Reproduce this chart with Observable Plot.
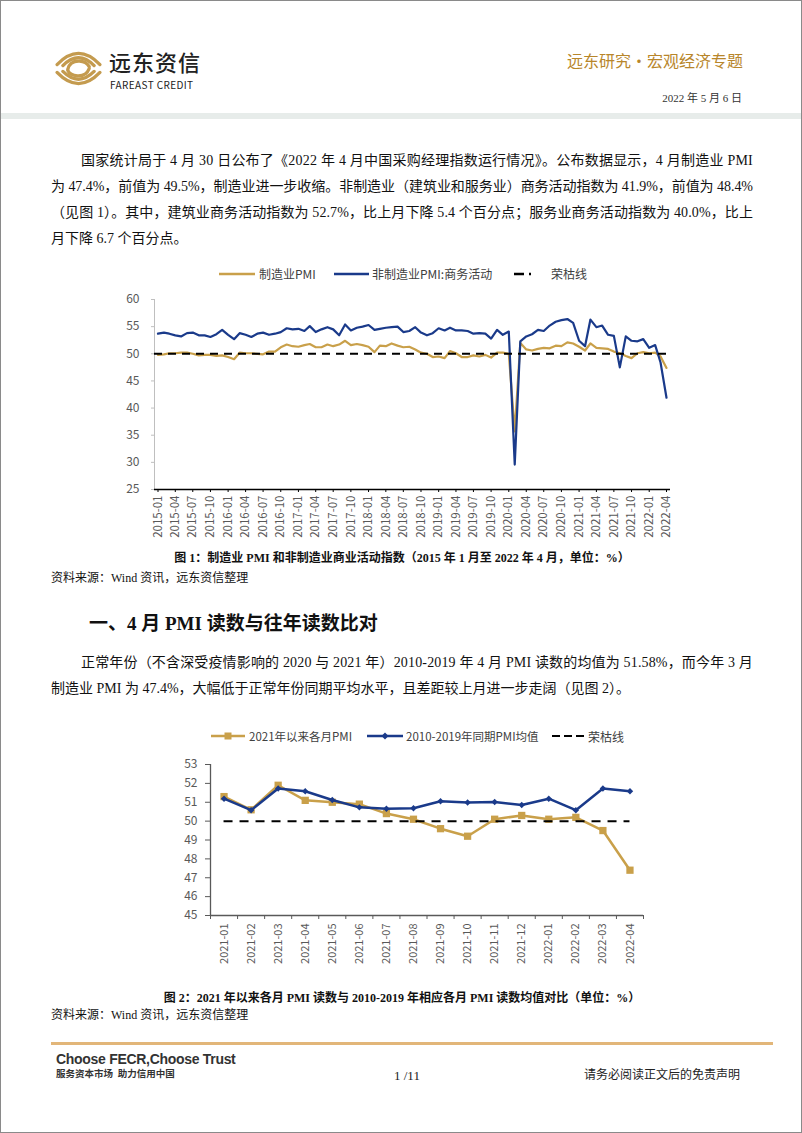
<!DOCTYPE html>
<html><head><meta charset="utf-8">
<script src="https://cdn.jsdelivr.net/npm/d3@7"></script>
<script src="https://cdn.jsdelivr.net/npm/@observablehq/plot@0.6"></script>
<style>
body{margin:0;background:#fff;}
#page{position:relative;width:802px;height:1133px;border:1px solid #8a8a8a;box-sizing:border-box;overflow:hidden;font-family:"Liberation Serif","Noto Sans CJK SC",serif;color:#111;}
.abs{position:absolute;white-space:nowrap;}
.txt{position:absolute;white-space:nowrap;font-size:14px;line-height:20px;height:20px;display:inline-block;}
.cap{position:absolute;left:0;width:802px;text-align:center;font-weight:bold;font-size:12px;line-height:16px;white-space:nowrap;}
.src{position:absolute;left:50px;font-size:12px;line-height:16px;white-space:nowrap;}
.leg{position:absolute;font-family:"Noto Sans CJK SC",sans-serif;color:#404040;white-space:nowrap;}
.chart{position:absolute;}
</style></head>
<body>
<div id="page">
  <!-- header -->
  <svg class="abs" style="left:53px;top:48px" width="49" height="39" viewBox="0 0 50 40">
    <g fill="none" stroke="#c49b4f" stroke-width="3.4" stroke-linecap="round">
      <path d="M3,16 Q25,-7 47,16"/>
      <path d="M9,17 Q25,1 41,17"/>
      <path d="M3,24 Q25,47 47,24"/>
      <path d="M9,23 Q25,39 41,23"/>
      <path d="M14,21 Q16,12 26,12.5 Q33,13 36,18"/>
      <path d="M36,20 Q33,28 24,27.5 Q16,27 14,22"/>
    </g>
  </svg>
  <div class="abs" style="left:108px;top:47px;font-family:'Noto Sans CJK SC';font-size:22px;line-height:26px;height:26px;font-weight:500;color:#222;letter-spacing:1px;">远东资信</div>
  <div class="abs" style="left:109px;top:78px;font-family:'Noto Sans CJK SC';font-size:10px;line-height:12px;height:12px;color:#222;letter-spacing:0.4px;">FAREAST CREDIT</div>
  <div class="abs" style="right:58px;top:48px;font-family:'Noto Sans CJK SC';font-size:16px;line-height:22px;color:#b8862b;">远东研究•宏观经济专题</div>
  <div class="abs" style="right:59px;top:90px;font-size:11px;line-height:14px;color:#333;">2022 年 5 月 6 日</div>
  <div class="abs" style="left:0;top:112px;width:802px;height:6px;background:#e7ecea;"></div>

  <!-- paragraph 1 -->
  <div class="txt just" data-w="672" style="left:80px;top:150px;">国家统计局于 4 月 30 日公布了《2022 年 4 月中国采购经理指数运行情况》。公布数据显示，4 月制造业 PMI</div>
  <div class="txt just" data-w="702" style="left:50px;top:176px;">为 47.4%，前值为 49.5%，制造业进一步收缩。非制造业（建筑业和服务业）商务活动指数为 41.9%，前值为 48.4%</div>
  <div class="txt just" data-w="702" style="left:50px;top:202px;">（见图 1）。其中，建筑业商务活动指数为 52.7%，比上月下降 5.4 个百分点；服务业商务活动指数为 40.0%，比上</div>
  <div class="txt" style="left:50px;top:228px;">月下降 6.7 个百分点。</div>

  <!-- chart 1 legend -->
  <svg class="abs" style="left:218px;top:268px" width="36" height="10"><line x1="0" x2="36" y1="5" y2="5" stroke="#c9a04a" stroke-width="2.5"/></svg>
  <div class="leg" style="left:258px;top:264px;font-size:12px;line-height:18px;">制造业PMI</div>
  <svg class="abs" style="left:333px;top:268px" width="35" height="10"><line x1="0" x2="35" y1="5" y2="5" stroke="#1a3a8a" stroke-width="2.5"/></svg>
  <div class="leg" style="left:371px;top:264px;font-size:12px;line-height:18px;">非制造业PMI:商务活动</div>
  <svg class="abs" style="left:513px;top:268px" width="33" height="10"><line x1="0" x2="32" y1="5" y2="5" stroke="#000" stroke-width="2.5" stroke-dasharray="10,5,2,20"/></svg>
  <div class="leg" style="left:550px;top:264px;font-size:12px;line-height:18px;">荣枯线</div>
  <div id="chart1" class="chart" style="left:60px;top:285px;"></div>

  <div class="cap" style="top:549px;">图 1：制造业 PMI 和非制造业商业活动指数（2015 年 1 月至 2022 年 4 月，单位：%）</div>
  <div class="src" style="top:569px;">资料来源：Wind 资讯，远东资信整理</div>

  <div class="abs" style="left:88px;top:610px;font-size:19px;line-height:26px;font-weight:bold;">一、4 月 PMI 读数与往年读数比对</div>

  <div class="txt just" data-w="672" style="left:80px;top:652px;">正常年份（不含深受疫情影响的 2020 与 2021 年）2010-2019 年 4 月 PMI 读数的均值为 51.58%，而今年 3 月</div>
  <div class="txt" style="left:50px;top:678px;">制造业 PMI 为 47.4%，大幅低于正常年份同期平均水平，且差距较上月进一步走阔（见图 2）。</div>

  <!-- chart 2 legend -->
  <svg class="abs" style="left:210px;top:730px" width="34" height="10"><line x1="0" x2="34" y1="5" y2="5" stroke="#c9a04a" stroke-width="2.5"/><rect x="13.5" y="1.5" width="7" height="7" fill="#c9a04a"/></svg>
  <div class="leg" style="left:248px;top:727px;font-size:11.5px;line-height:17px;">2021年以来各月PMI</div>
  <svg class="abs" style="left:366px;top:730px" width="36" height="10"><line x1="0" x2="36" y1="5" y2="5" stroke="#1a3a8a" stroke-width="2.5"/><path d="M18,1.5 L21.5,5 L18,8.5 L14.5,5 Z" fill="#1a3a8a"/></svg>
  <div class="leg" style="left:405px;top:727px;font-size:11.5px;line-height:17px;">2010-2019年同期PMI均值</div>
  <svg class="abs" style="left:551px;top:730px" width="32" height="10"><line x1="0" x2="32" y1="5" y2="5" stroke="#000" stroke-width="2" stroke-dasharray="8,4"/></svg>
  <div class="leg" style="left:587px;top:727px;font-size:12px;line-height:17px;">荣枯线</div>
  <div id="chart2" class="chart" style="left:160px;top:750px;"></div>

  <div class="cap" style="top:989px;">图 2：2021 年以来各月 PMI 读数与 2010-2019 年相应各月 PMI 读数均值对比（单位：%）</div>
  <div class="src" style="top:1006px;">资料来源：Wind 资讯，远东资信整理</div>

  <!-- footer -->
  <div class="abs" style="left:50px;top:1041px;width:722px;height:2.5px;background:#e2b679;"></div>
  <div class="abs" style="left:55px;top:1049px;font-family:'Liberation Sans';font-weight:bold;font-size:14px;line-height:18px;color:#333;letter-spacing:-0.3px;">Choose FECR,Choose Trust</div>
  <div class="abs" style="left:55px;top:1067px;font-size:9.5px;line-height:12px;font-weight:bold;color:#333;">服务资本市场&nbsp;&nbsp;助力信用中国</div>
  <div class="abs" style="left:393px;top:1067px;font-size:13px;line-height:16px;color:#222;">1 /11</div>
  <div class="abs" style="left:583px;top:1066px;font-size:12px;line-height:16px;color:#222;">请务必阅读正文后的免责声明</div>
</div>
<script>
// ---------- Chart 1 data (2015-01 .. 2022-04) ----------
const manufacturingPMI = [
  49.8,49.9,50.1,50.1,50.2,50.2,50.0,49.7,49.8,49.8,49.6,49.7,
  49.4,49.0,50.2,50.1,50.1,50.0,49.9,50.4,50.4,51.2,51.7,51.4,
  51.3,51.6,51.8,51.2,51.2,51.7,51.4,51.7,52.4,51.6,51.8,51.6,
  51.3,50.3,51.5,51.4,51.9,51.5,51.2,51.3,50.8,50.2,50.0,49.4,
  49.5,49.2,50.5,50.1,49.4,49.4,49.7,49.5,49.8,49.3,50.2,50.2,
  50.0,35.7,52.0,50.8,50.6,50.9,51.1,51.0,51.5,51.4,52.1,51.9,
  51.3,50.6,51.9,51.1,51.0,50.9,50.4,50.1,49.6,49.2,50.1,50.3,
  50.1,50.2,49.5,47.4];
const nonManufacturingPMI = [
  53.7,53.9,53.7,53.4,53.2,53.8,53.9,53.4,53.4,53.1,53.6,54.4,
  53.5,52.7,53.8,53.5,53.1,53.7,53.9,53.5,53.7,54.0,54.7,54.5,
  54.6,54.2,55.1,54.0,54.5,54.9,54.5,53.4,55.4,54.3,54.8,55.0,
  55.3,54.4,54.6,54.8,54.9,55.0,54.0,54.2,54.9,53.9,53.4,53.8,
  54.7,54.3,54.8,54.3,54.3,54.2,53.7,53.8,53.7,52.8,54.4,53.5,
  54.1,29.6,52.3,53.2,53.6,54.4,54.2,55.2,55.9,56.2,56.4,55.7,
  52.4,51.4,56.3,54.9,55.2,53.5,53.3,47.5,53.2,52.4,52.3,52.7,
  51.1,51.6,48.4,41.9];
const boomBust = [50];
const yTicks1 = [25,30,35,40,45,50,55,60];
const firstMonth = new Date(Date.UTC(2015,0,1));
const afterLast = new Date(Date.UTC(2022,4,1));

// ---------- Chart 2 data ----------
const months2 = ["2021-01","2021-02","2021-03","2021-04","2021-05","2021-06","2021-07","2021-08",
                 "2021-09","2021-10","2021-11","2021-12","2022-01","2022-02","2022-03","2022-04"];
const pmiSince2021 = [51.3,50.6,51.9,51.1,51.0,50.9,50.4,50.1,49.6,49.2,50.1,50.3,50.1,50.2,49.5,47.4];
const avg2010to2019 = [51.19,50.58,51.73,51.58,51.12,50.73,50.66,50.68,51.05,50.99,51.01,50.85,51.19,50.58,51.73,51.58];
const yTicks2 = [45,46,47,48,49,50,51,52,53];

const gold = "#c9a04a", blue = "#1a3a8a";
const chartFont = "'Noto Sans CJK SC', sans-serif";

const months = d3.utcMonth.range(firstMonth, afterLast);
const rows1 = months.map((m, i) => ({m, manu: manufacturingPMI[i], non: nonManufacturingPMI[i]}));
const xTicks1 = d3.utcMonth.every(3).range(firstMonth, afterLast);

const chart1 = Plot.plot({
  width: 620, height: 258,
  marginLeft: 93, marginRight: 11, marginTop: 13, marginBottom: 55,
  x: {type: "utc", label: null, domain: [months[0], months[months.length - 1]], insetLeft: 3.5, insetRight: 4},
  y: {label: null, domain: [25, 60]},
  style: {fontFamily: chartFont, fontSize: "12px", color: "#595959", background: "transparent", overflow: "visible"},
  marks: [
    Plot.ruleX([months[0]], {y1: 25, y2: 60, dx: -3.5, stroke: "#bfbfbf", strokeWidth: 1}),
    Plot.axisY({ticks: yTicks1, label: null, tickSize: 3, tickPadding: 12, stroke: "#bfbfbf", fontSize: 12}),
    Plot.axisX({ticks: xTicks1, label: null, tickFormat: d3.utcFormat("%Y-%m"), tickRotate: -90, tickSize: 3, tickPadding: 3, stroke: "#000", fontSize: 11.5}),
    Plot.ruleY([25], {stroke: "#000", strokeWidth: 1.5}),
    Plot.line(rows1, {x: "m", y: "manu", stroke: gold, strokeWidth: 2.2}),
    Plot.line(rows1, {x: "m", y: "non", stroke: blue, strokeWidth: 2.2}),
    Plot.ruleY(boomBust, {stroke: "#000", strokeWidth: 2, strokeDasharray: "8,6"})
  ]
});
document.getElementById("chart1").append(chart1);

const idx2 = months2.map((_, i) => i);
const rows2 = months2.map((m, i) => ({i, pmi: pmiSince2021[i], avg: avg2010to2019[i]}));
const xDom2 = [-0.5, months2.length - 0.5];
const edges2 = d3.range(xDom2[0], xDom2[1] + 0.01, 1);

const chart2 = Plot.plot({
  width: 500, height: 224,
  marginLeft: 49, marginRight: 18, marginTop: 13, marginBottom: 60,
  x: {label: null, domain: xDom2},
  y: {label: null, domain: [45, 53]},
  style: {fontFamily: chartFont, fontSize: "11px", color: "#595959", background: "transparent", overflow: "visible"},
  marks: [
    Plot.ruleX([xDom2[0]], {y1: 45, y2: 53, stroke: "#595959", strokeWidth: 1.3}),
    Plot.axisY({ticks: yTicks2, label: null, tickSize: 5, tickPadding: 8, stroke: "#595959", fontSize: 12}),
    Plot.axisX({ticks: edges2, label: null, tickFormat: () => "", tickSize: 4, stroke: "#595959"}),
    Plot.axisX({ticks: idx2, label: null, tickFormat: i => months2[i], tickRotate: -90, tickSize: 0, tickPadding: 8, fontSize: 11}),
    Plot.ruleY([45], {stroke: "#595959", strokeWidth: 1.5}),
    Plot.line(rows2, {x: "i", y: "pmi", stroke: gold, strokeWidth: 2.5}),
    Plot.dot(rows2, {x: "i", y: "pmi", symbol: "square", r: 4.1, fill: gold}),
    Plot.line(rows2, {x: "i", y: "avg", stroke: blue, strokeWidth: 2.5}),
    Plot.dot(rows2, {x: "i", y: "avg", symbol: "diamond2", r: 2.9, fill: blue}),
    Plot.ruleY(boomBust, {x1: idx2[0], x2: idx2[idx2.length - 1], stroke: "#000", strokeWidth: 2, strokeDasharray: "9,7"})
  ]
});
document.getElementById("chart2").append(chart2);

function justify() {
  document.querySelectorAll(".just").forEach(el => {
    el.style.letterSpacing = "0px";
    const w = el.getBoundingClientRect().width;
    const n = [...el.textContent].length;
    const target = parseFloat(el.dataset.w);
    el.style.letterSpacing = ((target - w) / n) + "px";
  });
}
justify();
if (document.fonts && document.fonts.ready) document.fonts.ready.then(justify);
</script>
</body></html>
